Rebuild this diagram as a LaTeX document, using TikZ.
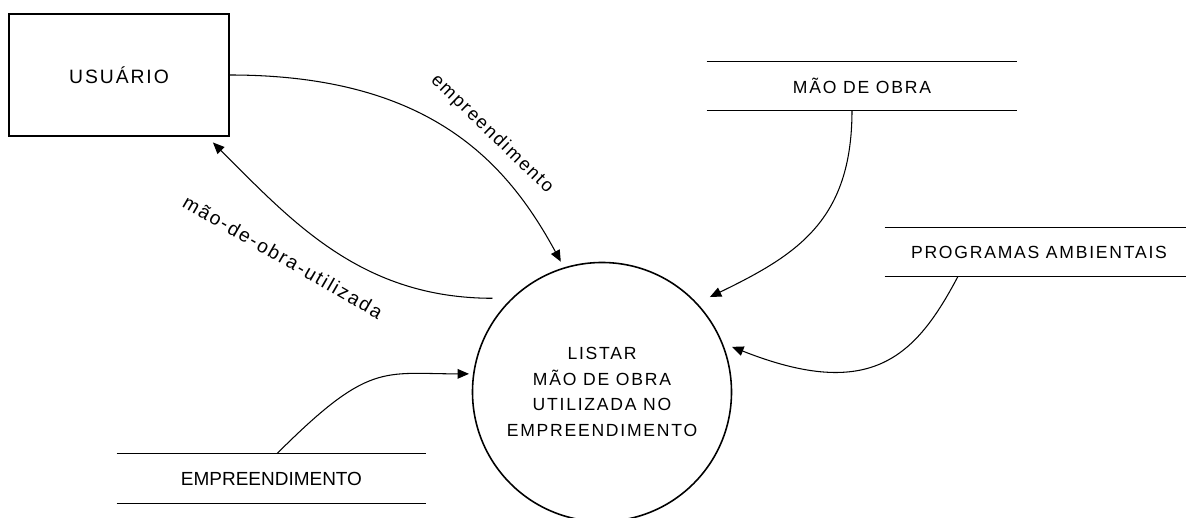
\documentclass[tikz,border=0pt]{standalone}
\usepackage{fontspec}
\setmainfont{Liberation Sans}[LetterSpace=10]
\newfontfamily\plainfont{Liberation Sans}
\usetikzlibrary{arrows.meta}

\tikzset{
  entity/.style={draw, line width=0.9pt, minimum width=4.4cm, minimum height=2.44cm,
    font=\fontsize{11}{13}\selectfont},
  process/.style={draw, circle, line width=0.9pt, minimum size=5.18cm, inner sep=0pt,
    align=center, font=\fontsize{10}{14.6}\selectfont},
  store/.style={minimum height=0.96cm, inner sep=0pt, font=\fontsize{10}{12}\selectfont},
  storeline/.style={line width=0.9pt},
  flow/.style={line width=0.6pt, -{Triangle[length=6.5pt,width=5.5pt]}},
  flowlabel/.style={font=\fontsize{10.5}{12}\selectfont}
}

\begin{document}
\begin{tikzpicture}
  \useasboundingbox (0,0) rectangle (23.72,10.36);

  % external entity and process
  \node[entity] (usuario) at (2.38,8.86) {USUÁRIO};
  \node[process] (proc) at (12.04,2.52)
    {LISTAR\\MÃO DE OBRA\\UTILIZADA NO\\EMPREENDIMENTO};

  % data stores
  \node[store, minimum width=6.2cm] (maodeobra) at (17.24,8.64) {MÃO DE OBRA};
  \node[store, minimum width=6.16cm] (programas) at (20.78,5.32) {PROGRAMAS AMBIENTAIS};
  \node[store, minimum width=6.18cm, minimum height=0.98cm,
    font=\plainfont\fontsize{10.8}{12}\selectfont] (empreend) at (5.43,0.79) {EMPREENDIMENTO};
  \draw[storeline] (maodeobra.north west) -- (maodeobra.north east)
    (maodeobra.south west) -- (maodeobra.south east);
  \draw[storeline] (programas.north west) -- (programas.north east)
    (programas.south west) -- (programas.south east);
  \draw[storeline] (empreend.north west) -- (empreend.north east)
    (empreend.south west) -- (empreend.south east);

  % data flows
  \begin{scope}[flow]
    \draw[shorten >=0.13cm] (usuario.east) .. controls +(4,0) and +(-1.14,2.1) .. (proc.107);
    \draw[shorten <=0.38cm, shorten >=0.16cm] (proc.134) .. controls +(-3,0) and +(1.7,-1.7) .. (usuario.-35);
    \draw[shorten >=0.28cm] ([xshift=-0.2cm]maodeobra.south) .. controls +(0,-2.2) and +(2,0.97) .. (proc.43);
    \draw[shorten >=0.2cm] ([xshift=-1.62cm]programas.south) .. controls +(-0.84,-1.59) and +(2.98,-1.18) .. (proc.22);
    \draw[shorten >=0.08cm] ([xshift=0.11cm]empreend.north) .. controls +(1.84,1.84) and +(-1.8,0) .. (proc.172);
  \end{scope}

  % flow labels
  \node[flowlabel, rotate=-44] (lblemp) at (9.84,7.68) {empreendimento};
  \node[flowlabel, rotate=-30, font=\fontsize{11}{12}\selectfont] (lblmao) at (5.66,5.22) {mão-de-obra-utilizada};
\end{tikzpicture}
\end{document}
